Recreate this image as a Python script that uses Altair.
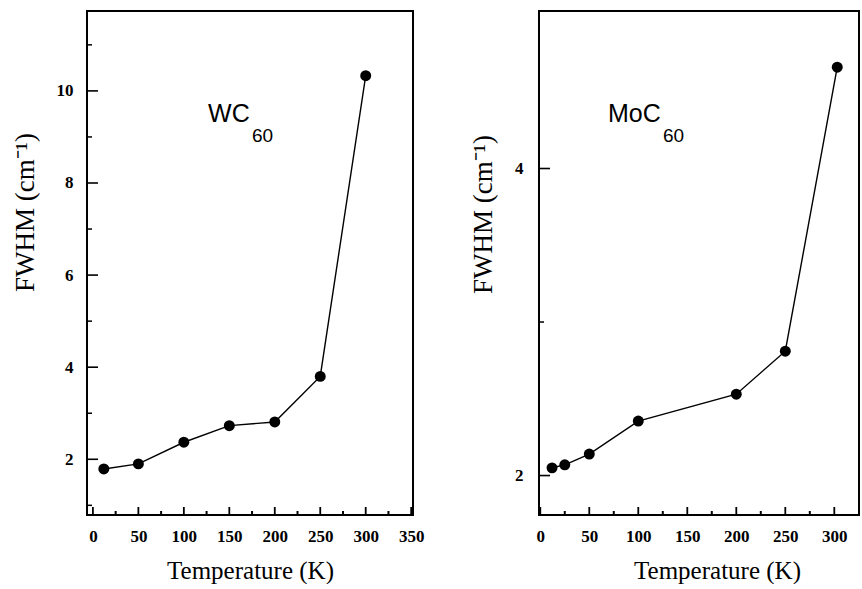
import altair as alt
import pandas as pd

# ---- data ----
wc_temp = [12, 50, 100, 150, 200, 250, 300]
wc_fwhm = [1.79, 1.90, 2.37, 2.73, 2.81, 3.80, 10.33]

mo_temp = [12, 25, 50, 100, 200, 250, 303]
mo_fwhm = [2.05, 2.07, 2.14, 2.355, 2.53, 2.81, 4.66]

wc_x_labels = [0, 50, 100, 150, 200, 250, 300, 350]
wc_x_minor = [25, 75, 125, 175, 225, 275, 325]
wc_y_labels = [2, 4, 6, 8, 10]
wc_y_minor = [1, 3, 5, 7, 9, 11]

mo_x_labels = [0, 50, 100, 150, 200, 250, 300]
mo_x_minor = [25, 75, 125, 175, 225, 275]
mo_y_labels = [2, 4]
mo_y_minor = [3]

SERIF = "Liberation Serif"
SANS = "Liberation Sans"


def panel(temps, fwhm, xdom, ydom, xvals, xminor, yvals, yminor, w, h,
          name, name_pos, sub_pos, ytitle_x, ytitle_y, xtitle_x, ylab_pad):
    xs = alt.Scale(domain=xdom, nice=False, zero=False)
    ys = alt.Scale(domain=ydom, nice=False, zero=False)
    df = pd.DataFrame({"T": temps, "F": fwhm})
    xaxis = alt.Axis(values=xvals, format="d", ticks=False, tickSize=0, domain=False,
                     grid=False, labelPadding=13, labelFont=SERIF, labelFontWeight="bold",
                     labelFontSize=17, labelColor="black", title="Temperature (K)",
                     titleFont=SERIF, titleFontSize=25, titleFontWeight="normal",
                     titleColor="black", titleBaseline="alphabetic", titleY=63,
                     titleX=xtitle_x, labelFlush=False)
    yaxis = alt.Axis(values=yvals, format="d", ticks=False, tickSize=0, domain=False,
                     grid=False, labelPadding=ylab_pad, labelFont=SERIF,
                     labelFontWeight="bold", labelFontSize=17, labelColor="black",
                     title="FWHM (cm\u207b\u00b9)", titleFont=SERIF, titleFontSize=27,
                     titleFontWeight="normal", titleColor="black", titleAngle=-90,
                     titleBaseline="middle", titleAlign="center", titleX=ytitle_x,
                     titleY=ytitle_y, labelFlush=False)
    base = alt.Chart(df).encode(
        x=alt.X("T:Q", scale=xs, axis=xaxis),
        y=alt.Y("F:Q", scale=ys, axis=yaxis),
    )
    line = base.mark_line(color="black", strokeWidth=1.4)
    pts = base.mark_circle(size=120, color="black", opacity=1)

    ymaj = alt.Chart(pd.DataFrame({"F": yvals})).mark_rule(color="black", strokeWidth=1.6).encode(
        y=alt.Y("F:Q", scale=ys), x=alt.value(0), x2=alt.value(11))
    ymin = alt.Chart(pd.DataFrame({"F": yminor})).mark_rule(color="black", strokeWidth=1.5).encode(
        y=alt.Y("F:Q", scale=ys), x=alt.value(0), x2=alt.value(5))
    xmaj = alt.Chart(pd.DataFrame({"T": xvals})).mark_rule(color="black", strokeWidth=1.8).encode(
        x=alt.X("T:Q", scale=xs), y=alt.value(h), y2=alt.value(h - 8))
    xmin = alt.Chart(pd.DataFrame({"T": xminor})).mark_rule(color="black", strokeWidth=2).encode(
        x=alt.X("T:Q", scale=xs), y=alt.value(h), y2=alt.value(h - 4))

    lab = alt.Chart(pd.DataFrame({"T": [name_pos[0]], "F": [name_pos[1]], "t": [name]})).mark_text(
        align="left", baseline="alphabetic", font=SANS, fontSize=25, color="black").encode(
        x=alt.X("T:Q", scale=xs), y=alt.Y("F:Q", scale=ys), text="t:N")
    sub = alt.Chart(pd.DataFrame({"T": [sub_pos[0]], "F": [sub_pos[1]], "t": ["60"]})).mark_text(
        align="left", baseline="alphabetic", font=SANS, fontSize=19, color="black").encode(
        x=alt.X("T:Q", scale=xs), y=alt.Y("F:Q", scale=ys), text="t:N")

    return alt.layer(line, pts, ymaj, ymin, xmaj, xmin, lab, sub).properties(width=w, height=h)


H = 504
left = panel(wc_temp, wc_fwhm, [-6.5, 352], [0.79, 11.735], wc_x_labels, wc_x_minor,
             wc_y_labels, wc_y_minor, 326, H, "WC", (126.6, 9.33), (175.0, 8.90),
             -62, 201, 163, 14)
right = panel(mo_temp, mo_fwhm, [-1.3, 325.2], [1.743, 5.026], mo_x_labels, mo_x_minor,
              mo_y_labels, mo_y_minor, 320, H, "MoC", (69.1, 4.305), (125.2, 4.175),
              -56, 203, 178, 16)

chart = alt.hconcat(left, right, spacing=126, bounds="flush").configure_view(
    stroke="black", strokeWidth=2
).properties(
    padding={"left": 10, "top": 10, "right": 0, "bottom": 0},
    background="white",
)

chart.save("out.html", embed_options={"renderer": "svg", "actions": False})
